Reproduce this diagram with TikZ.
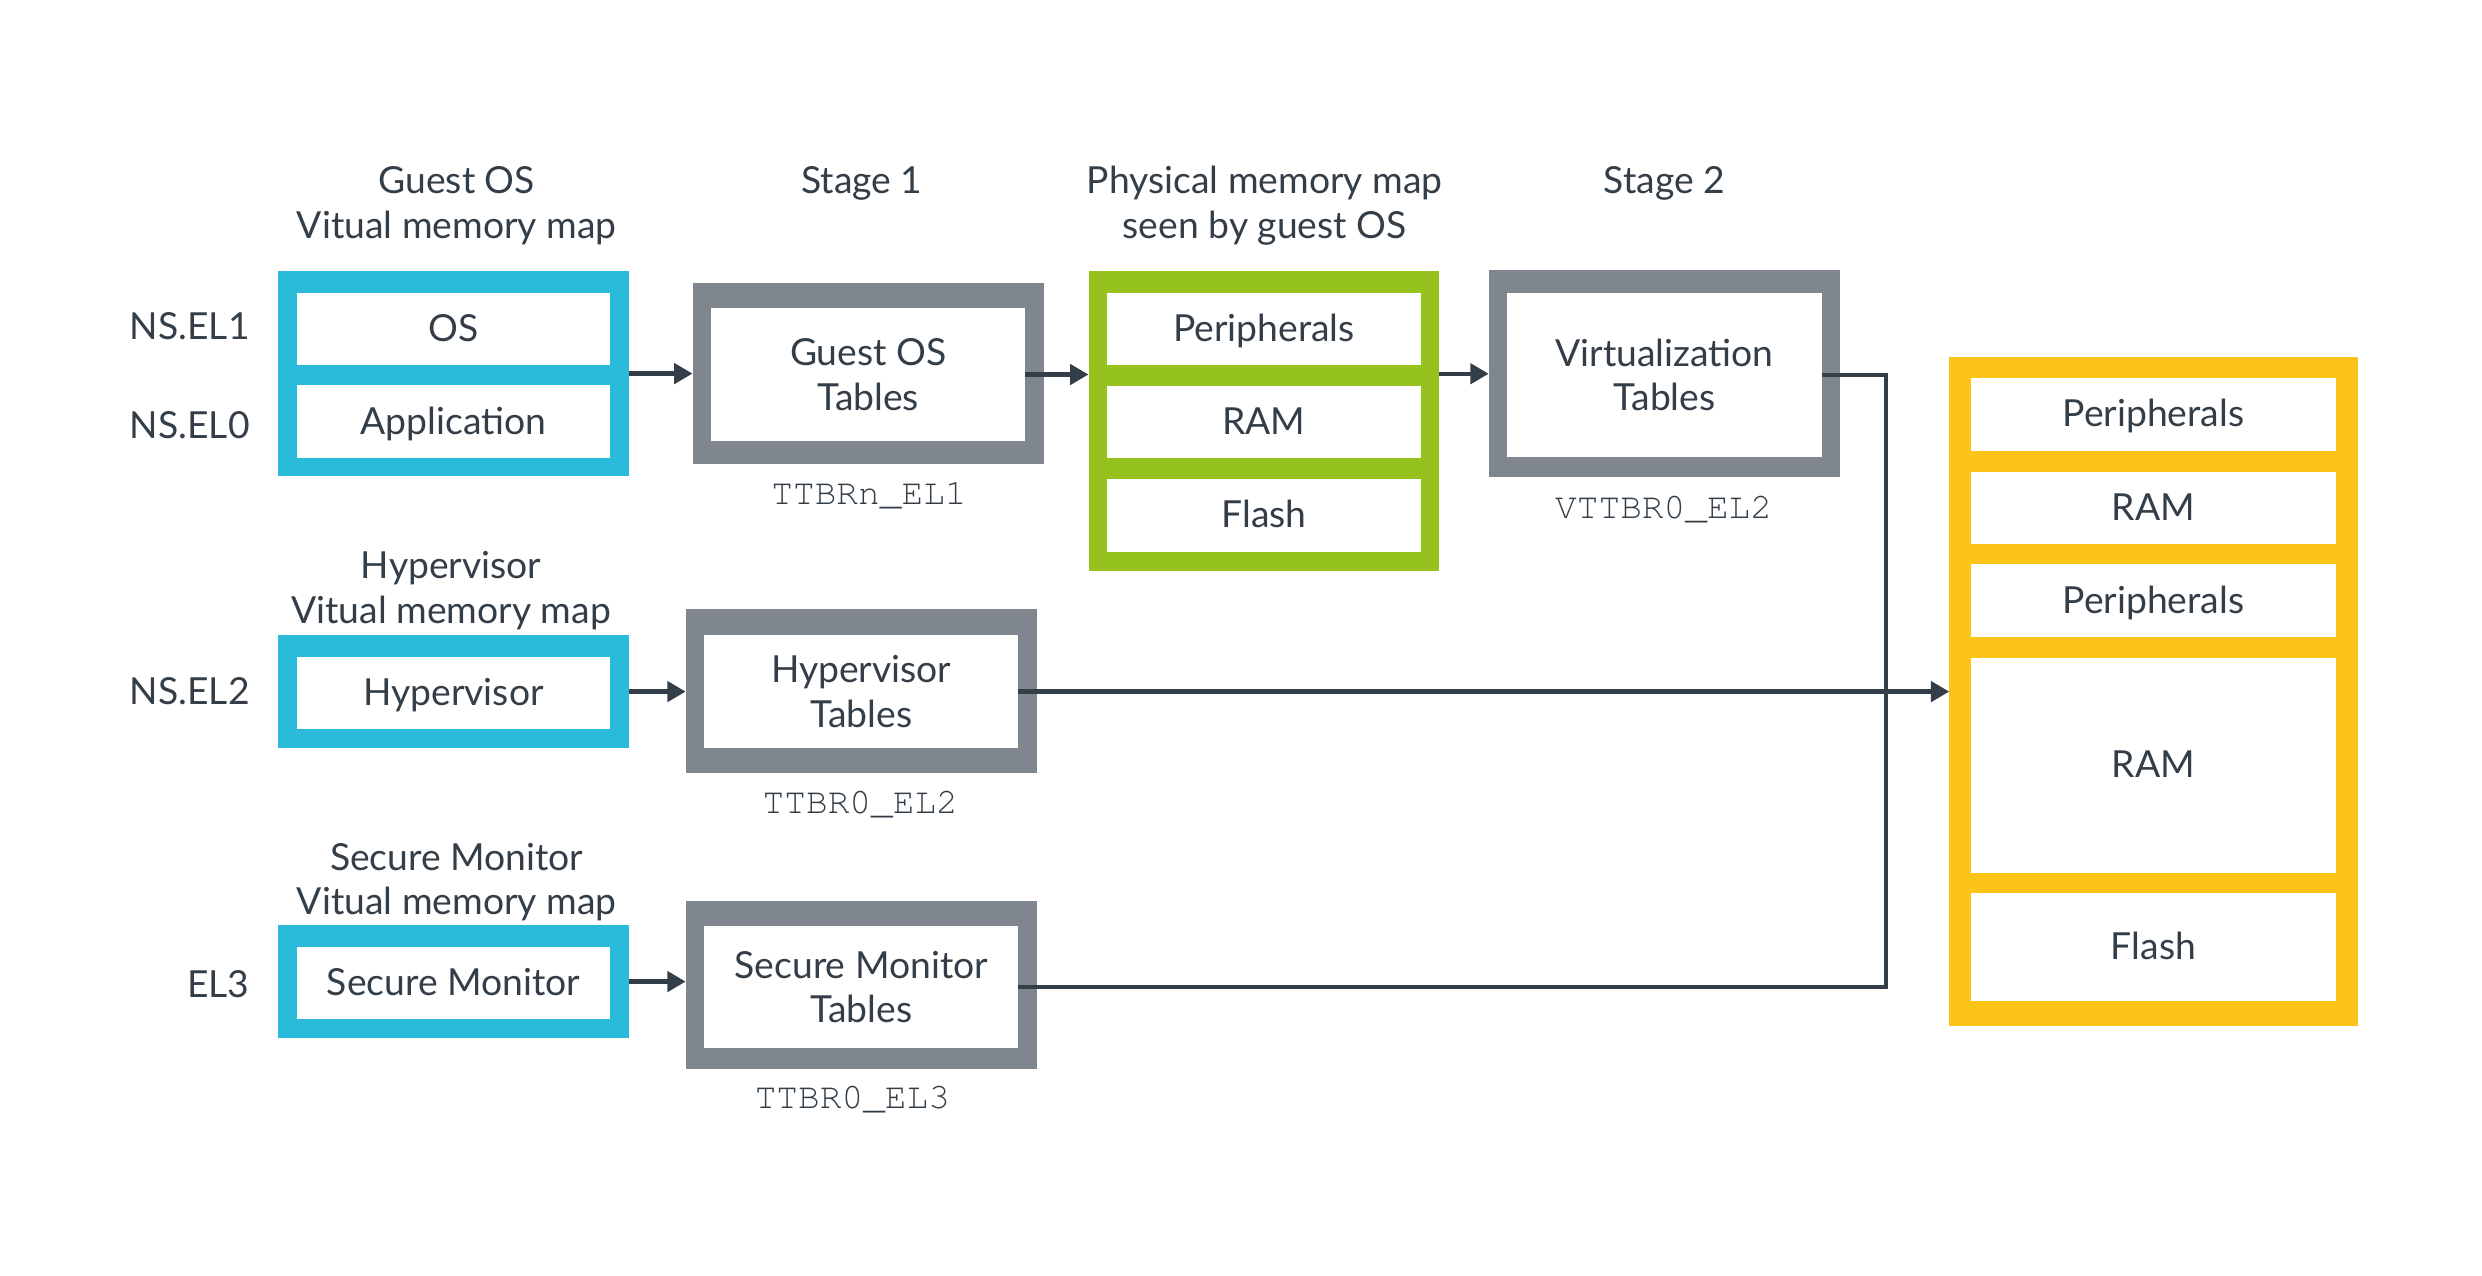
\documentclass[tikz,border=0pt]{standalone}
\usepackage[T1,TU]{fontenc}
\usepackage{fontspec}
\setmainfont{Lato}
\usetikzlibrary{arrows.meta}

\definecolor{armblue}{HTML}{2ABADA}
\definecolor{armgrey}{HTML}{7F868D}
\definecolor{armgreen}{HTML}{96C21F}
\definecolor{armyellow}{HTML}{FCC417}
\definecolor{armdark}{HTML}{333E48}

\newlength{\pix}
\setlength{\pix}{0.02cm}
\newcommand{\regfont}{\fontencoding{T1}\fontfamily{pcr}\fontsize{13pt}{16pt}\selectfont}

\begin{document}
\begin{tikzpicture}[
    x=\pix, y=-\pix,
    font=\fontsize{13.4pt}{16.1pt}\selectfont,
    text=armdark,
    tri/.tip={Triangle[length=6.6pt, width=7.2pt]},
    link/.style={draw=armdark, line width=1.6pt},
    wh/.style 2 args={minimum width=#1\pix, minimum height=#2\pix},
    mapbox/.style={fill=#1, inner sep=0pt, outer sep=0pt},
    cell/.style={fill=white, inner sep=0pt, outer sep=0pt, text height=0.88em, text depth=0pt},
    tabcell/.style={fill=white, inner sep=0pt, outer sep=0pt, align=center},
    title/.style={anchor=base, inner sep=0pt, align=center},
    elname/.style={anchor=base east, inner sep=0pt},
    reg/.style={anchor=base, inner sep=0pt, font=\regfont},
    ]
    \useasboundingbox (0,0) rectangle (1568,806);

    \node[title] (gvat) at (288.5,150.5) {Guest OS\\Vitual memory map};
    \node[title] (st1) at (544.5,122.1) {Stage 1};
    \node[title] (pat) at (799,150.5) {Physical memory map\\seen by guest OS};
    \node[title] (st2) at (1051.5,122.1) {Stage 2};
    \node[title] (hvat) at (285,394) {Hypervisor\\Vitual memory map};
    \node[title] (svat) at (288.5,578) {Secure Monitor\\Vitual memory map};

    \node[elname] (el1) at (158,214.4) {NS.EL1};
    \node[elname] (el0) at (158,276.9) {NS.EL0};
    \node[elname] (el2) at (158,445.2) {NS.EL2};
    \node[elname] (el3) at (158,630.2) {EL3};

    \node[mapbox=armblue, wh={222}{130}] (gva) at (286.5,236) {};
    \node[cell, wh={198}{45.5}] (os) at (286.5,207.8) {OS};
    \node[cell, wh={198}{46}] (app) at (286.5,266.5) {Application};

    \node[mapbox=armblue, wh={222}{71.7}] (hva) at (286.5,436.9) {};
    \node[cell, wh={198}{45.5}] (hyp) at (286.5,437.9) {Hypervisor};

    \node[mapbox=armblue, wh={222}{71.6}] (sva) at (286.5,620.1) {};
    \node[cell, wh={198}{45.5}] (mon) at (286.5,621.2) {Secure Monitor};

    \node[mapbox=armgrey, wh={222}{114}] (s1f) at (548.5,236) {};
    \node[tabcell, wh={198.6}{83.6}] (s1) at (548.5,236.6) {Guest OS\\Tables};
    \node[reg] (ttbr1) at (549,319) {TTBRn\_EL1};

    \node[mapbox=armgrey, wh={222}{103.2}] (htf) at (544.2,436.5) {};
    \node[tabcell, wh={198.4}{71.6}] (ht) at (544.1,436.9) {Hypervisor\\Tables};
    \node[reg] (ttbr2) at (543.5,514.2) {TTBR0\_EL2};

    \node[mapbox=armgrey, wh={222}{106.3}] (smf) at (544.2,622.2) {};
    \node[tabcell, wh={198.4}{77.4}] (sm) at (544.1,623.5) {Secure Monitor\\Tables};
    \node[reg] (ttbr3) at (538.5,700.4) {TTBR0\_EL3};

    \node[mapbox=armgreen, wh={221.7}{190}] (pa) at (798.5,266) {};
    \foreach \cy/\txt [count=\i] in {207.8/Peripherals, 266.5/RAM, 325.5/Flash}
        \node[cell, wh={198.3}{45.8}] (pa\i) at (798.5,\cy) {\txt};

    \node[mapbox=armgrey, wh={222}{131}] (s2f) at (1051.5,236.1) {};
    \node[tabcell, wh={198.8}{103.2}] (s2) at (1051.6,236.9) {Virtualization\\Tables};
    \node[reg] (vttbr) at (1051,327.4) {VTTBR0\_EL2};

    \node[mapbox=armyellow, wh={257.9}{422.7}] (hpa) at (1360.4,436.7) {};
    \foreach \cy/\ch/\txt [count=\i] in {261.9/45.7/Peripherals, 320.8/45.6/RAM,
        379.6/46.1/Peripherals, 483.6/136.2/RAM, 598.3/67.9/Flash}
        \node[cell, wh={230.5}{\ch}] (hpa\i) at (1360.4,\cy) {\txt};

    \coordinate (bus) at (1191.5,436.9);

    \draw[link, -tri] (gva.east) -- (gva.east -| s1f.west);
    \draw[link, -tri] (s1.east) -- (s1.east -| pa.west);
    \draw[link, -tri] (pa.east |- s2f.west) -- (s2f.west);
    \draw[link, -tri] (hva.east) -- (hva.east -| htf.west);
    \draw[link, -tri] (sva.east) -- (sva.east -| smf.west);
    \draw[link, -tri] (ht.east) -- (ht.east -| hpa.west);
    \draw[link] (s2.east) -| (bus) |- (sm.east);
\end{tikzpicture}
\end{document}
